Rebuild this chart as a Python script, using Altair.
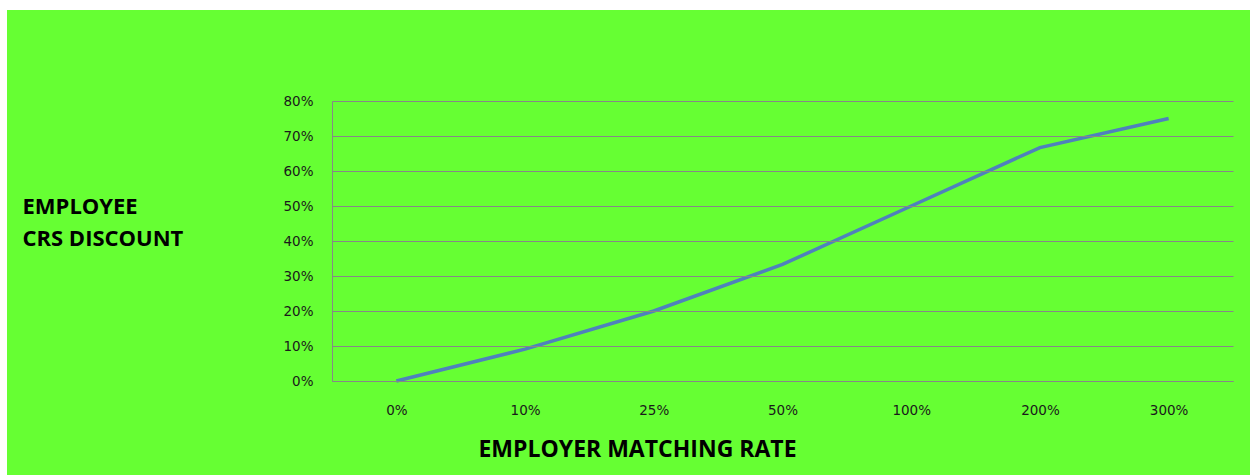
import altair as alt
import pandas as pd

categories = ["0%", "10%", "25%", "50%", "100%", "200%", "300%"]
discount = [0.0, 0.091, 0.20, 0.333, 0.50, 0.667, 0.75]

df = pd.DataFrame({"rate": categories, "discount": discount})

GREEN = "#66FF33"
GRID = "#878787"

bg = alt.Chart(pd.DataFrame({"a": [0]})).mark_rect(color=GREEN).encode(
    x=alt.value(-325), x2=alt.value(918), y=alt.value(-91), y2=alt.value(374)
)

line = alt.Chart(df).mark_line(color="#4F81BD", strokeWidth=3.5).encode(
    x=alt.X("rate:N", sort=categories,
            scale=alt.Scale(padding=0.5),
            axis=alt.Axis(title="EMPLOYER MATCHING RATE", labelAngle=0,
                          titleX=305, titleY=57, titleAnchor="middle",
                          titleAlign="center", titleBaseline="top",
                          titleFontSize=23,
                          labelPadding=22, grid=False, ticks=False,
                          domainColor=GRID, zindex=2)),
    y=alt.Y("discount:Q", scale=alt.Scale(domain=[0, 0.8]),
            axis=alt.Axis(format=".0%", values=[0, .1, .2, .3, .4, .5, .6, .7, .8],
                          title=["EMPLOYEE", "CRS DISCOUNT"], titleAngle=0,
                          titleAlign="left", titleBaseline="top",
                          titleX=-310, titleY=95, titleLineHeight=32,
                          titleFontSize=22,
                          labelPadding=19, ticks=False, grid=True,
                          gridColor=GRID, gridOpacity=1, domainColor=GRID,
                          zindex=1)),
)

chart = alt.layer(bg, line).properties(
    width=901, height=280,
    autosize=alt.AutoSizeParams(type="none"),
    padding={"left": 332, "top": 101, "right": 17, "bottom": 94},
    background="white",
).configure_view(stroke=None).configure_axis(
    labelFont="DejaVu Sans", labelFontSize=13.5, labelColor="#1a1a1a",
    titleFont="Open Sans", titleFontWeight="bold",
    titleColor="black", domainWidth=1, gridWidth=1,
)

chart.save("out.html", embed_options={"renderer": "svg", "actions": False})
